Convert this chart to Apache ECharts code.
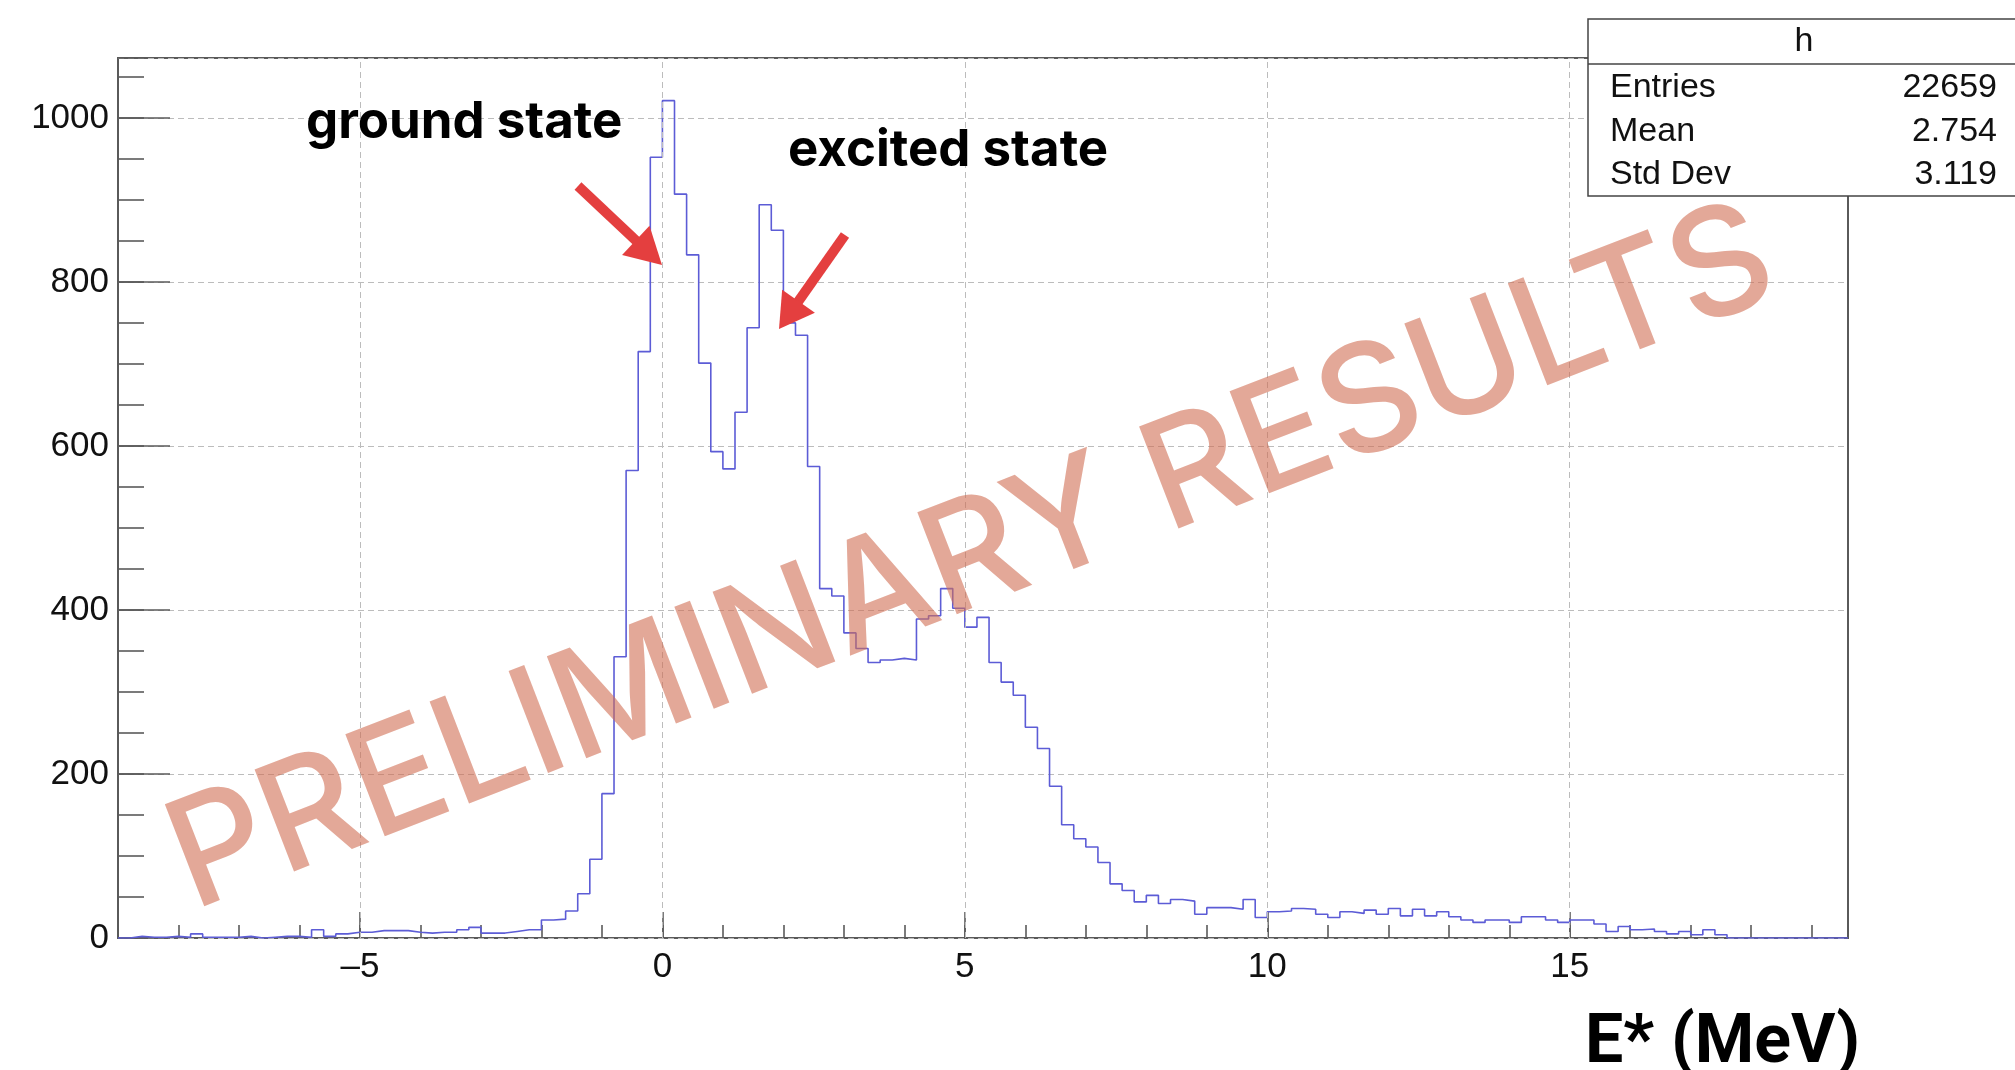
<!DOCTYPE html>
<html><head><meta charset="utf-8">
<script src="https://cdn.jsdelivr.net/npm/echarts@6/dist/echarts.min.js"></script>
<style>html,body{margin:0;padding:0;background:#fff}#c{width:2015px;height:1070px}</style>
</head><body><div id="c"></div>
<script>
// ---- data ----
const binStart = -9.0;      // lower edge of first bin (MeV)
const binWidth = 0.2;       // bin width (MeV)
const xMin = -9.0, xMax = 19.6, yMax = 1073;
const counts = [
  0, 2, 1, 1, 2, 1, 5, 1, 1, 1,
  2, 0, 1, 2, 2, 1, 10, 2, 5, 7,
  7, 9, 9, 9, 7, 6, 7, 7, 10, 13,
  6, 6, 8, 10, 10, 22, 23, 33, 54, 96,
  176, 343, 570, 715, 952, 1021, 907, 833, 701, 593,
  572, 641, 744, 894, 863, 750, 735, 575, 426, 417,
  372, 353, 336, 339, 341, 339, 389, 393, 426, 402,
  379, 391, 336, 312, 296, 257, 231, 185, 138, 121,
  111, 92, 66, 58, 44, 52, 42, 47, 45, 29,
  37, 37, 35, 47, 25, 32, 33, 36, 35, 29,
  25, 32, 30, 34, 29, 36, 27, 35, 27, 32,
  26, 22, 19, 22, 22, 19, 26, 26, 22, 19,
  22, 22, 17, 8, 14, 10, 11, 8, 5, 8,
  4, 10, 4, 0, 0, 0, 0, 0, 0, 0,
  0, 0, 0
];
const xTickValues = [-5, 0, 5, 10, 15];
const yTickStep = 200;
const statsTitle = 'h';
const statsNames = ['Entries', 'Mean', 'Std Dev'];
const statsValues = ['22659', '2.754', '3.119'];
const labelGround = 'ground state';
const labelExcited = 'excited state';
const xTitle = 'E* (MeV)';
const watermark = 'PRELIMINARY RESULTS';

// ---- build ----
const histData = counts.map((c, i) => [+(binStart + i * binWidth).toFixed(3), c]);
histData.push([xMax, counts[counts.length - 1]]);

const AX = '#5a5a5a';
const GRID = '#bcbcbc';
const LBL = {fontFamily: '"Liberation Sans", Arial, sans-serif', fontSize: 35, color: '#111'};

function arrow(tail, tip, headLen, headHalf) {
  const dx = tip[0] - tail[0], dy = tip[1] - tail[1];
  const L = Math.hypot(dx, dy), ux = dx / L, uy = dy / L, nx = -uy, ny = ux;
  const bx = tip[0] - headLen * ux, by = tip[1] - headLen * uy;
  return [
    {type: 'line', z: 30, silent: true,
     shape: {x1: tail[0], y1: tail[1], x2: bx + 4 * ux, y2: by + 4 * uy},
     style: {stroke: '#e43f3f', lineWidth: 10}},
    {type: 'polygon', z: 30, silent: true,
     shape: {points: [[tip[0], tip[1]], [bx + headHalf * nx, by + headHalf * ny], [bx - headHalf * nx, by - headHalf * ny]]},
     style: {fill: '#e43f3f'}}
  ];
}

const statFont = '34px "Liberation Sans", Arial, sans-serif';
const graphics = [
  {type: 'text', x: 972, y: 560, rotation: 0.37, z: 50, silent: true,
   style: {text: watermark, fill: 'rgba(208,110,83,0.6)', font: '500 150px Inter, "Liberation Sans", sans-serif',
           textAlign: 'center', align: 'center', textVerticalAlign: 'middle', verticalAlign: 'middle'}},
  {type: 'rect', z: 60, silent: true, shape: {x: 1588, y: 19, width: 440, height: 177},
   style: {fill: '#fff', stroke: '#444', lineWidth: 1.5}},
  {type: 'line', z: 61, silent: true, shape: {x1: 1588, y1: 64, x2: 2015, y2: 64},
   style: {stroke: '#444', lineWidth: 1.5}},
  {type: 'text', z: 62, x: 1804, y: 42, silent: true,
   style: {text: statsTitle, font: statFont, fill: '#111', textAlign: 'center', align: 'center', textVerticalAlign: 'middle', verticalAlign: 'middle'}}
];
statsNames.forEach((n, i) => {
  const y = 88 + i * 43.5;
  graphics.push({type: 'text', z: 62, x: 1610, y: y, silent: true,
    style: {text: n, font: statFont, fill: '#111', textAlign: 'left', align: 'left', textVerticalAlign: 'middle', verticalAlign: 'middle'}});
  graphics.push({type: 'text', z: 62, x: 1997, y: y, silent: true,
    style: {text: statsValues[i], font: statFont, fill: '#111', textAlign: 'right', align: 'right', textVerticalAlign: 'middle', verticalAlign: 'middle'}});
});
const annFont = 'bold 51px Inter, "Noto Sans", sans-serif';
graphics.push({type: 'text', z: 40, x: 306, y: 123, silent: true,
  style: {text: labelGround, font: annFont, fill: '#000', textAlign: 'left', align: 'left', textVerticalAlign: 'middle', verticalAlign: 'middle'}});
graphics.push({type: 'text', z: 40, x: 788, y: 151, silent: true,
  style: {text: labelExcited, font: annFont, fill: '#000', textAlign: 'left', align: 'left', textVerticalAlign: 'middle', verticalAlign: 'middle'}});
graphics.push({type: 'text', z: 40, x: 1585, y: 1045, silent: true,
  style: {text: xTitle, font: 'bold 68px Roboto, Inter, sans-serif', fill: '#000', textAlign: 'left', align: 'left', textVerticalAlign: 'middle', verticalAlign: 'middle'}});
graphics.push(...arrow([578, 186], [662, 265], 36, 20));
graphics.push(...arrow([845, 235], [779, 329], 34, 20));

const chart = echarts.init(document.getElementById('c'), null, {renderer: 'canvas'});
chart.setOption({
  animation: false,
  backgroundColor: '#fff',
  grid: {left: 118, right: 167, top: 58, bottom: 132, show: true, borderColor: AX, borderWidth: 2, backgroundColor: 'transparent'},
  xAxis: [
    {type: 'value', min: xMin, max: xMax, position: 'bottom',
     axisLine: {show: false, onZero: false},
     axisTick: {show: true, inside: true, length: 26, customValues: xTickValues, lineStyle: {color: AX, width: 1.6}},
     axisLabel: Object.assign({show: true, margin: 12, customValues: xTickValues,
       formatter: v => v < 0 ? '\u2013' + Math.abs(v) : String(v)}, LBL),
     splitLine: {show: false}},
    {type: 'value', min: xMin, max: xMax, interval: 1, position: 'bottom',
     axisLine: {show: false, onZero: false},
     axisTick: {show: true, inside: true, length: 13, lineStyle: {color: AX, width: 1.6}},
     axisLabel: {show: false}, splitLine: {show: false}}
  ],
  yAxis: [
    {type: 'value', min: 0, max: yMax, interval: yTickStep, position: 'left',
     axisLine: {show: false, onZero: false},
     axisTick: {show: true, inside: true, length: 52, lineStyle: {color: AX, width: 1.6}},
     axisLabel: Object.assign({show: true, margin: 9, showMaxLabel: false, formatter: v => String(v)}, LBL),
     splitLine: {show: true, lineStyle: {color: GRID, type: [6, 4], width: 1}}},
    {type: 'value', min: 0, max: yMax, interval: 50, position: 'left',
     axisLine: {show: false, onZero: false},
     axisTick: {show: true, inside: true, length: 26, lineStyle: {color: AX, width: 1.6}},
     axisLabel: {show: false}, splitLine: {show: false}}
  ],
  series: [{
    type: 'line', step: 'end', xAxisIndex: 0, yAxisIndex: 0,
    data: histData, showSymbol: false, symbol: 'none',
    lineStyle: {color: '#5c5cd6', width: 1.6}, z: 3,
    markLine: {silent: true, symbol: ['none', 'none'], label: {show: false}, animation: false,
      lineStyle: {color: GRID, type: [6, 4], width: 1},
      data: xTickValues.map(v => ({xAxis: v}))}
  }],
  graphic: graphics
});
</script></body></html>
